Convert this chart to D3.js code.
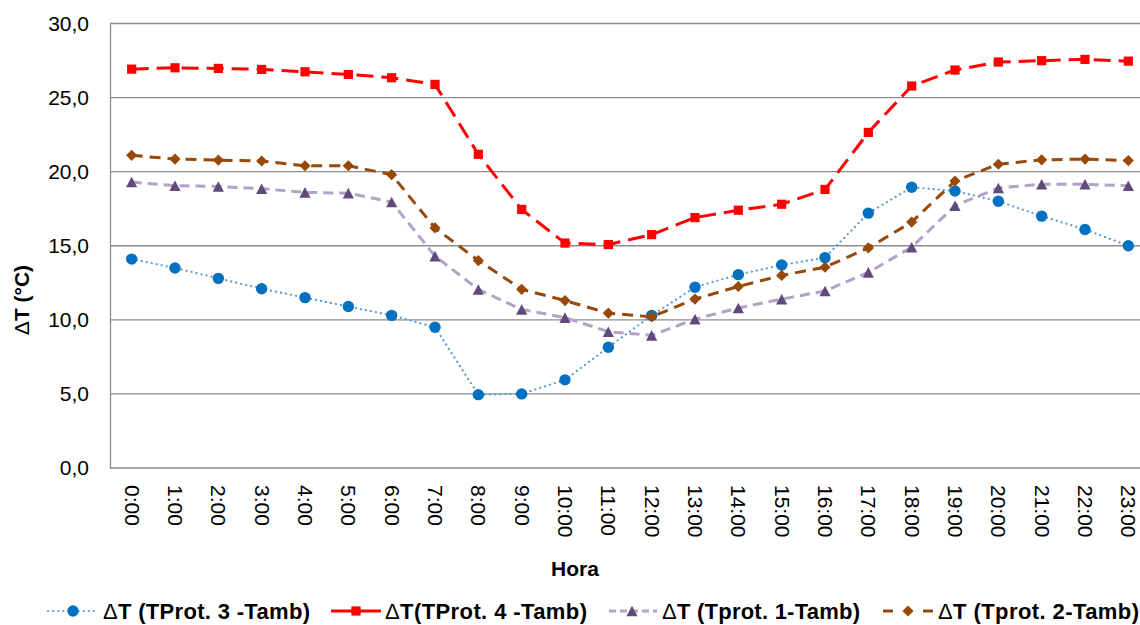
<!DOCTYPE html>
<html>
<head>
<meta charset="utf-8">
<script src="https://cdn.jsdelivr.net/npm/d3@7"></script>
<style>
  html, body { margin: 0; padding: 0; background: #fff; }
  svg { display: block; font-family: "Liberation Sans", Arial, sans-serif; }
</style>
</head>
<body>
<svg id="chart" width="1140" height="625"></svg>
<script>
// Hourly temperature differences between each protection and ambient air
const hours = ["0:00","1:00","2:00","3:00","4:00","5:00","6:00","7:00","8:00","9:00","10:00","11:00",
               "12:00","13:00","14:00","15:00","16:00","17:00","18:00","19:00","20:00","21:00","22:00","23:00"];
const yTicks = [0, 5, 10, 15, 20, 25, 30];

const prot3 = [14.1, 13.5, 12.8, 12.1, 11.5, 10.9, 10.3, 9.5, 4.95, 5.0, 5.95, 8.15,
               10.3, 12.2, 13.05, 13.7, 14.2, 17.2, 18.95, 18.7, 18.0, 17.0, 16.1, 15.0];
const prot4 = [26.92, 27.01, 26.97, 26.9, 26.74, 26.56, 26.34, 25.89, 21.17, 17.45, 15.18, 15.08,
               15.75, 16.9, 17.4, 17.8, 18.8, 22.65, 25.78, 26.86, 27.4, 27.49, 27.58, 27.46];
const prot1 = [19.3, 19.05, 19.0, 18.85, 18.6, 18.55, 17.95, 14.3, 12.05, 10.7, 10.15, 9.2,
               8.95, 10.05, 10.8, 11.4, 11.95, 13.2, 14.9, 17.7, 18.9, 19.15, 19.15, 19.05];
const prot2 = [21.1, 20.85, 20.78, 20.72, 20.4, 20.4, 19.8, 16.2, 14.0, 12.06, 11.3, 10.45,
               10.2, 11.4, 12.25, 13.0, 13.55, 14.85, 16.6, 19.37, 20.5, 20.8, 20.85, 20.75];

const seriesLabels = ["(TProt. 3 -Tamb)", "(TProt. 4 -Tamb)", "(Tprot. 1-Tamb)", "(Tprot. 2-Tamb)"];

// marker shapes
const circle = r => `M${r},0A${r},${r} 0 1,1 ${-r},0A${r},${r} 0 1,1 ${r},0Z`;
const square = h => `M${-h},${-h}H${h}V${h}H${-h}Z`;
const triangle = (w, h) => `M0,${-h / 2}L${w},${h / 2}L${-w},${h / 2}Z`;
const diamond = h => `M0,${-h}L${h},0L0,${h}L${-h},0Z`;

const series = [
  { label: seriesLabels[0], values: prot3, line: "#5b9bd5", marker: "#0070c0", width: 2.2,
    dash: "0.1 5", cap: "round", shape: circle(5.7),
    legend: { x: 48, len: 49, mark: 25, text: 103, tl: 207, dash: "0.1 5" } },
  { label: seriesLabels[1], values: prot4, line: "#ff0000", marker: "#ff0000", width: 3,
    dash: "17 8", cap: "butt", shape: square(4.6),
    legend: { x: 331, len: 50, mark: 25, text: 385, tl: 202, dash: null } },
  { label: seriesLabels[2], values: prot1, line: "#b3a2c7", marker: "#604a7b", width: 3,
    dash: "10 6", cap: "butt", shape: triangle(5.6, 10.6),
    legend: { x: 609, len: 48, mark: 23, text: 662, tl: 198, dash: "7 4" } },
  { label: seriesLabels[3], values: prot2, line: "#984807", marker: "#984807", width: 3,
    dash: "11 7", cap: "butt", shape: diamond(5.6),
    legend: { x: 883, len: 50, mark: 25, text: 938, tl: 201, dash: "10 30" } }
];

const svg = d3.select("#chart");
const plot = { left: 110, right: 1150, top: 23.5, bottom: 468 };

const x = d3.scalePoint().domain(hours).range([plot.left, plot.right]).padding(0.5);
const y = d3.scaleLinear().domain([0, 30]).range([plot.bottom, plot.top]);

// horizontal gridlines
svg.append("g").selectAll("line").data(yTicks.filter(t => t > 0)).join("line")
  .attr("x1", plot.left).attr("x2", plot.right)
  .attr("y1", d => y(d)).attr("y2", d => y(d))
  .attr("stroke", "#8c8c8c").attr("stroke-width", 1.3);

// y axis
const yAxis = svg.append("g").attr("transform", `translate(${plot.left},0)`)
  .call(d3.axisLeft(y).tickValues(yTicks).tickSize(0).tickPadding(21)
        .tickFormat(d => d3.format(".1f")(d).replace(".", ",")));
yAxis.select(".domain").attr("stroke", "#8c8c8c").attr("stroke-width", 1.3);
yAxis.selectAll("text").attr("font-size", 21).attr("fill", "#000")
  .attr("font-family", "Liberation Sans, Arial, sans-serif");

// x axis with rotated hour labels
const xAxis = svg.append("g").attr("transform", `translate(0,${plot.bottom})`)
  .call(d3.axisBottom(x).tickSize(0));
xAxis.select(".domain").attr("d", `M${plot.left},0H${plot.right}`)
  .attr("stroke", "#8c8c8c").attr("stroke-width", 1.3);
xAxis.selectAll("text")
  .attr("font-size", 21).attr("fill", "#000")
  .attr("font-family", "Liberation Sans, Arial, sans-serif")
  .attr("text-anchor", "start").attr("dy", "0.35em")
  .attr("transform", "translate(0,17) rotate(90)")
  .attr("x", 0).attr("y", 0);

// axis titles
const yTitle = svg.append("text")
  .attr("transform", "translate(29,300) rotate(-90)")
  .attr("text-anchor", "middle").attr("font-size", 21).attr("font-weight", "bold");
yTitle.append("tspan").attr("font-weight", "normal").text("\u0394");
yTitle.append("tspan").text("T (°C)");
svg.append("text")
  .attr("x", 575).attr("y", 576)
  .attr("text-anchor", "middle").attr("font-size", 21).attr("font-weight", "bold")
  .text("Hora");

// series lines and markers
const lineGen = d3.line().x((d, i) => x(hours[i])).y(d => y(d));
series.forEach(s => {
  svg.append("path").datum(s.values)
    .attr("d", lineGen).attr("fill", "none")
    .attr("stroke", s.line).attr("stroke-width", s.width)
    .attr("stroke-dasharray", s.dash).attr("stroke-linecap", s.cap)
    .attr("stroke-linejoin", "round");
  svg.append("g").selectAll("path").data(s.values).join("path")
    .attr("d", s.shape)
    .attr("transform", (d, i) => `translate(${x(hours[i])},${y(d)})`)
    .attr("fill", s.marker);
});

// legend
const legend = svg.append("g").attr("transform", "translate(0,611)");
series.forEach(s => {
  const L = s.legend;
  legend.append("line").attr("x1", L.x).attr("x2", L.x + L.len)
    .attr("stroke", s.line).attr("stroke-width", s.width)
    .attr("stroke-dasharray", L.dash).attr("stroke-linecap", s.cap);
  legend.append("path").attr("d", s.shape)
    .attr("transform", `translate(${L.x + L.mark},0)`).attr("fill", s.marker);
  const t = legend.append("text").attr("x", L.text).attr("dy", "0.36em")
    .attr("font-size", 22).attr("font-weight", "bold")
    .attr("textLength", L.tl).attr("lengthAdjust", "spacing");
  t.append("tspan").attr("font-weight", "normal").text("\u0394");
  t.append("tspan").text((s === series[1] ? "T" : "T ") + s.label);
});
</script>
</body>
</html>
